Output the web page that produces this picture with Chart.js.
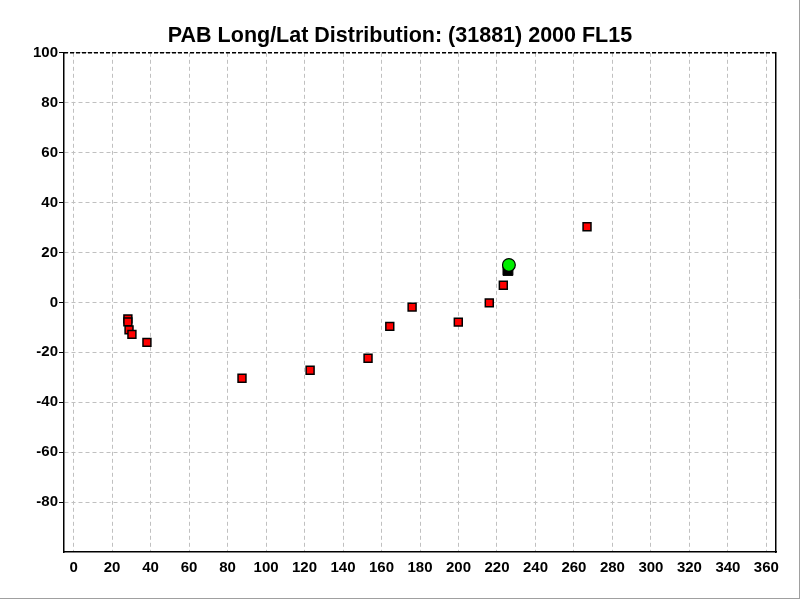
<!DOCTYPE html>
<html>
<head>
<meta charset="utf-8">
<script src="https://cdn.jsdelivr.net/npm/chart.js@4/dist/chart.umd.min.js"></script>
<style>
  html, body { margin: 0; padding: 0; background: #fff; }
  canvas { display: block; }
</style>
</head>
<body>
<canvas id="c" width="800" height="600"></canvas>
<script>
// ── Data ────────────────────────────────────────────────────────────────
const titleText = 'PAB Long/Lat Distribution: (31881) 2000 FL15';

// red squares: longitude / latitude
const pabLong = [28.2, 28.2, 28.8, 30.3, 38.1, 87.5, 122.9, 153.0, 164.3, 175.9, 199.9, 216.0, 223.3, 266.8];
const pabLat  = [-6.6, -7.8, -11.0, -12.8, -16.0, -30.4, -27.2, -22.4, -9.6, -1.9, -7.9, -0.2, 6.9, 30.3];

// black square (reference point) and green circle (current)
const refLong = [225.7];
const refLat  = [12.8];
const curLong = [226.2];
const curLat  = [15.0];

const xTicks = [0, 20, 40, 60, 80, 100, 120, 140, 160, 180, 200, 220, 240, 260, 280, 300, 320, 340, 360];
const yTicks = [-100, -80, -60, -40, -20, 0, 20, 40, 60, 80, 100];

const toPts = (xs, ys) => xs.map((x, i) => ({ x: x, y: ys[i] }));

// ── Frame plugin: top dashed border + window edge ───────────────────────
const framePlugin = {
  id: 'frame',
  afterDraw(chart) {
    const { ctx, chartArea: a } = chart;
    ctx.save();
    ctx.strokeStyle = '#000';
    ctx.lineWidth = 1.5;
    ctx.setLineDash([4, 2]);
    ctx.beginPath();
    ctx.moveTo(a.left, a.top);
    ctx.lineTo(a.right, a.top);
    ctx.stroke();
    ctx.setLineDash([]);
    ctx.strokeStyle = '#a0a0a0';
    ctx.lineWidth = 1;
    ctx.beginPath();
    ctx.moveTo(799.5, 0);
    ctx.lineTo(799.5, 599);
    ctx.moveTo(0, 598.5);
    ctx.lineTo(800, 598.5);
    ctx.stroke();
    ctx.restore();
  }
};

const tickFont = { family: 'Liberation Sans, Arial, sans-serif', size: 15, weight: 'bold' };

new Chart(document.getElementById('c').getContext('2d'), {
  type: 'scatter',
  data: {
    datasets: [
      {
        label: 'Current',
        data: toPts(curLong, curLat),
        pointStyle: 'circle',
        pointRadius: 6.4,
        backgroundColor: '#00ee00',
        borderColor: '#000',
        borderWidth: 1.2
      },
      {
        label: 'Reference',
        data: toPts(refLong, refLat),
        pointStyle: 'rect',
        pointRadius: 7,
        backgroundColor: '#000',
        borderColor: '#000',
        borderWidth: 1
      },
      {
        label: 'PAB',
        data: toPts(pabLong, pabLat),
        pointStyle: 'rect',
        pointRadius: 5.6,
        backgroundColor: '#ff0000',
        borderColor: '#000',
        borderWidth: 1.5
      }
    ]
  },
  options: {
    responsive: false,
    animation: false,
    layout: { padding: 0 },
    plugins: {
      legend: { display: false },
      tooltip: { enabled: false },
      title: {
        display: true,
        text: titleText,
        color: '#000',
        font: { family: 'Liberation Sans, Arial, sans-serif', size: 21.5, weight: 'bold' },
        padding: { top: 23, bottom: 4 }
      }
    },
    scales: {
      x: {
        type: 'linear',
        min: -5,
        max: 365,
        afterBuildTicks: s => { s.ticks = xTicks.map(v => ({ value: v })); },
        afterFit: s => { s.height = 48; },
        ticks: { color: '#000', font: tickFont, padding: 7, includeBounds: false, maxRotation: 0, autoSkip: false },
        grid: { color: '#c0c0c0', lineWidth: 1, drawTicks: false },
        border: { display: true, color: '#000', width: 1.5, dash: [4, 3] }
      },
      y: {
        type: 'linear',
        min: -100,
        max: 100,
        afterBuildTicks: s => { s.ticks = yTicks.map(v => ({ value: v })); },
        afterFit: s => { s.width = 64; },
        ticks: {
          color: '#000',
          font: tickFont,
          padding: 1,
          callback: v => (v === -100 ? null : v)
        },
        grid: { color: '#c0c0c0', lineWidth: 1, tickLength: 5, tickColor: '#000', tickBorderDash: [] },
        border: { display: true, color: '#000', width: 1.5, dash: [4, 3] }
      },
      yRight: {
        type: 'linear',
        position: 'right',
        min: -100,
        max: 100,
        afterFit: s => { s.width = 24; },
        ticks: { display: false },
        grid: { display: false, drawTicks: false },
        border: { display: true, color: '#000', width: 1.5 }
      }
    }
  },
  plugins: [framePlugin]
});
</script>
</body>
</html>
